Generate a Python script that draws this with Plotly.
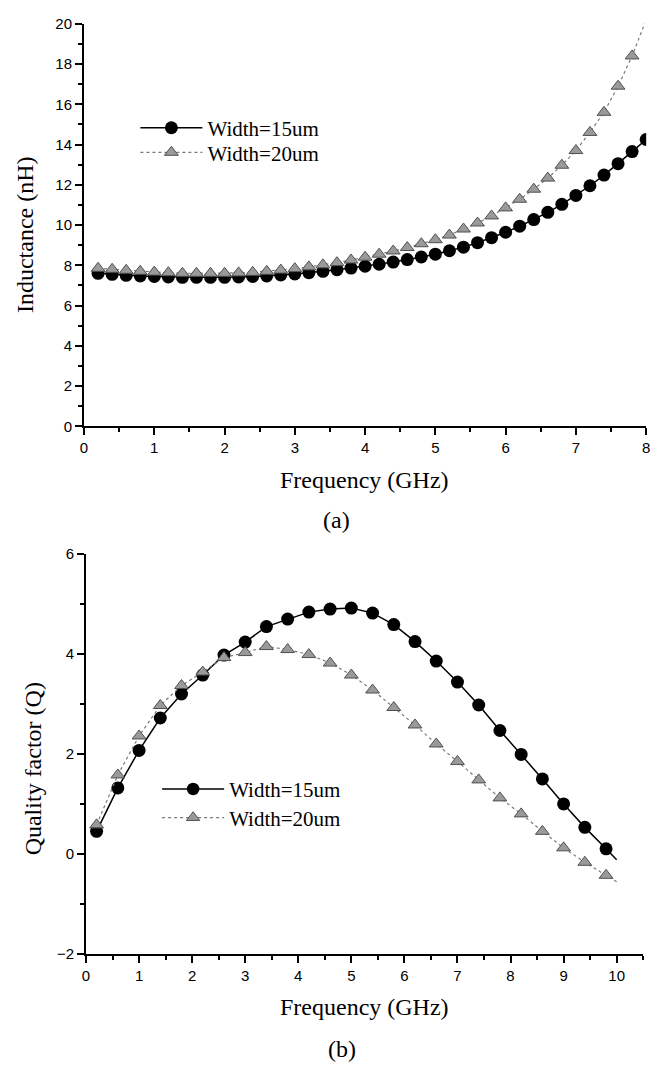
import plotly.graph_objects as go

# ---- (a) inductance vs frequency ----
freq_a = [0.2, 0.4, 0.6, 0.8, 1.0, 1.2, 1.4, 1.6, 1.8, 2.0,
          2.2, 2.4, 2.6, 2.8, 3.0, 3.2, 3.4, 3.6, 3.8, 4.0,
          4.2, 4.4, 4.6, 4.8, 5.0, 5.2, 5.4, 5.6, 5.8, 6.0,
          6.2, 6.4, 6.6, 6.8, 7.0, 7.2, 7.4, 7.6, 7.8, 8.0]
ind_w15 = [7.60, 7.55, 7.50, 7.47, 7.44, 7.42, 7.40, 7.40, 7.40, 7.40,
           7.42, 7.44, 7.47, 7.52, 7.57, 7.63, 7.70, 7.78, 7.86, 7.95,
           8.05, 8.16, 8.28, 8.41, 8.55, 8.72, 8.90, 9.12, 9.37, 9.64,
           9.94, 10.27, 10.63, 11.03, 11.47, 11.95, 12.48, 13.05, 13.65, 14.25]
ind_w20 = [7.85, 7.80, 7.75, 7.70, 7.66, 7.63, 7.60, 7.60, 7.60, 7.60,
           7.62, 7.65, 7.70, 7.76, 7.83, 7.92, 8.02, 8.13, 8.26, 8.40,
           8.55, 8.71, 8.88, 9.07, 9.27, 9.50, 9.80, 10.10, 10.45, 10.85,
           11.28, 11.78, 12.33, 12.97, 13.70, 14.60, 15.60, 16.90, 18.40, 20.20]

# ---- (b) quality factor vs frequency ----
freq_b = [0.2, 0.6, 1.0, 1.4, 1.8, 2.2, 2.6, 3.0, 3.4, 3.8,
          4.2, 4.6, 5.0, 5.4, 5.8, 6.2, 6.6, 7.0, 7.4, 7.8,
          8.2, 8.6, 9.0, 9.4, 9.8, 10.0]
q_w15 = [0.45, 1.32, 2.07, 2.72, 3.20, 3.58, 3.98, 4.24, 4.55, 4.70,
         4.84, 4.90, 4.92, 4.82, 4.59, 4.25, 3.86, 3.44, 2.98, 2.47,
         1.99, 1.50, 1.00, 0.53, 0.10, -0.12]
q_w20 = [0.58, 1.58, 2.36, 2.97, 3.37, 3.64, 3.93, 4.03, 4.15, 4.09,
         3.99, 3.82, 3.58, 3.28, 2.93, 2.58, 2.20, 1.85, 1.48, 1.12,
         0.80, 0.45, 0.12, -0.17, -0.43, -0.56]

series_names = ["Width=15um", "Width=20um"]
x_title = "Frequency (GHz)"
ya_title = "Inductance (nH)"
yb_title = "Quality factor (Q)"
panel_tags = ["(a)", "(b)"]

W, H = 664, 1068


def fx(p):
    return p / W


def fy(p):
    return 1 - p / H


SERIF = "Liberation Serif"
SANS = "Liberation Sans"

circle_style = dict(symbol="circle", color="black", size=13, opacity=1,
                    line=dict(color="black", width=0))
tri_style = dict(symbol="triangle-up", color="#9a9a9a", size=12, opacity=1,
                 line=dict(color="#505050", width=1))
solid_line = dict(color="black", width=1.5)
dotted_line = dict(color="#7a7a7a", width=1.2, dash="dot")

# last point of panel (b) carries the line only, no symbol
sizes_b_circle = [13 if f <= 9.8 else 0 for f in freq_b]
sizes_b_tri = [12 if f <= 9.8 else 0 for f in freq_b]

fig = go.Figure()

fig.add_trace(go.Scatter(x=freq_a, y=ind_w15, mode="lines+markers",
                         name=series_names[0], line=solid_line,
                         marker=circle_style, xaxis="x", yaxis="y",
                         legend="legend"))
fig.add_trace(go.Scatter(x=freq_a, y=ind_w20, mode="lines+markers",
                         name=series_names[1], line=dotted_line,
                         marker=tri_style, xaxis="x", yaxis="y",
                         legend="legend2"))
fig.add_trace(go.Scatter(x=freq_b, y=q_w15, mode="lines+markers",
                         name=series_names[0], line=solid_line,
                         marker=dict(circle_style, size=sizes_b_circle),
                         xaxis="x2", yaxis="y2", legend="legend3"))
fig.add_trace(go.Scatter(x=freq_b, y=q_w20, mode="lines+markers",
                         name=series_names[1], line=dotted_line,
                         marker=dict(tri_style, size=sizes_b_tri),
                         xaxis="x2", yaxis="y2", legend="legend4"))

axis_common = dict(
    showline=True, linecolor="black", linewidth=2,
    ticks="outside", ticklen=7, tickwidth=1.5, tickcolor="black",
    showgrid=False, zeroline=False,
    tickfont=dict(family=SANS, size=15, color="black"),
    minor=dict(ticks="outside", ticklen=4, tickwidth=1.5,
               tickcolor="black", showgrid=False),
)

legend_common = dict(
    font=dict(family=SERIF, size=21, color="black"),
    bgcolor="rgba(0,0,0,0)", borderwidth=0, itemwidth=62,
    xref="paper", yref="paper", xanchor="left", yanchor="middle",
)

fig.update_layout(
    width=W, height=H,
    margin=dict(l=0, r=0, t=0, b=0),
    paper_bgcolor="white", plot_bgcolor="white",
    showlegend=True,
    xaxis=dict(axis_common, domain=[fx(81), fx(650)], range=[0, 8],
               tick0=0, dtick=1, minor=dict(axis_common["minor"], dtick=0.5),
               anchor="y"),
    yaxis=dict(axis_common, domain=[fy(424), fy(15)], range=[0, 20],
               tick0=0, dtick=2, minor=dict(axis_common["minor"], dtick=1),
               anchor="x"),
    xaxis2=dict(axis_common, domain=[fx(83), fx(647)], range=[0, 10.5],
                tick0=0, dtick=1, minor=dict(axis_common["minor"], dtick=0.5),
                anchor="y2"),
    yaxis2=dict(axis_common, domain=[fy(960), fy(554)], range=[-2, 6],
                tick0=0, dtick=2, minor=dict(axis_common["minor"], dtick=1),
                anchor="x2"),
    legend=dict(legend_common, x=fx(133), y=fy(121)),
    legend2=dict(legend_common, x=fx(133), y=fy(146)),
    legend3=dict(legend_common, x=fx(155), y=fy(793)),
    legend4=dict(legend_common, x=fx(155), y=fy(822)),
)

text_font = dict(family=SERIF, size=24, color="black")
labels = [
    (x_title, 365, 479, 0),
    (panel_tags[0], 337, 519, 0),
    (ya_title, 22, 229, -90),
    (x_title, 365, 1014, 0),
    (panel_tags[1], 342, 1057, 0),
    (yb_title, 29, 772, -90),
]
for txt, px, py, ang in labels:
    fig.add_annotation(text=txt, x=fx(px), y=fy(py), xref="paper",
                       yref="paper", xanchor="center", yanchor="middle",
                       showarrow=False, textangle=ang, font=text_font)

fig.write_html("out.html")
